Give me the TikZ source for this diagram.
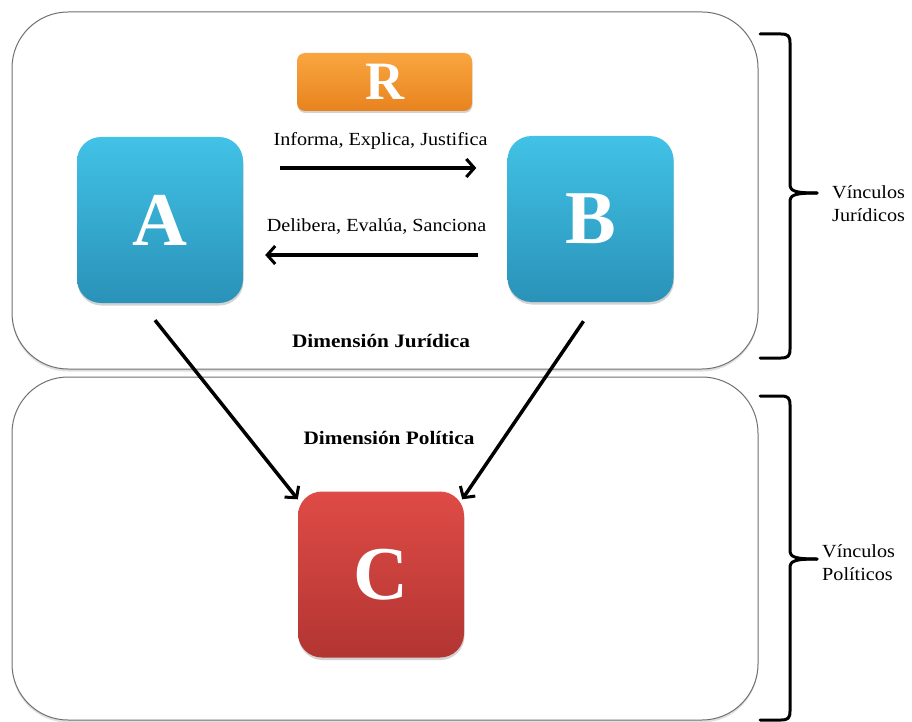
\documentclass[tikz,border=0pt]{standalone}
\usepackage{fontspec}
\setmainfont{Liberation Serif}
\newfontfamily\widefont[FakeStretch=1.09]{Liberation Serif}
\newfontfamily\widerfont[FakeStretch=1.12]{Liberation Serif}
\usetikzlibrary{shadows,arrows.meta,calc}
\definecolor{otop}{HTML}{F9A640}
\definecolor{obot}{HTML}{E8831F}
\definecolor{btop}{HTML}{41C2E6}
\definecolor{bbot}{HTML}{2A92B8}
\definecolor{rtop}{HTML}{DF4B46}
\definecolor{rbot}{HTML}{B23532}
\definecolor{pline}{HTML}{707070}
\tikzset{
  panel/.style={draw=pline, line width=1pt, fill=white, rounded corners=56pt,
    drop shadow={shadow xshift=0pt, shadow yshift=-2.5pt, opacity=0.25}},
  letterbox/.style={rounded corners=24pt, minimum width=166pt, minimum height=166pt,
    text=white, font=\fontsize{76}{80}\selectfont\bfseries,
    drop shadow={shadow xshift=0.5pt, shadow yshift=-2.5pt, opacity=0.35}},
  bluebox/.style={letterbox, top color=btop, bottom color=bbot},
  lbl/.style={font=\widefont\fontsize{18.5}{21}\selectfont, inner sep=0pt},
  bold/.style={font=\widerfont\fontsize{19}{22}\selectfont\bfseries, inner sep=0pt},
  blbl/.style={font=\widefont\fontsize{18.5}{23}\selectfont, align=left, inner sep=0pt, anchor=west},
  arr/.style={line width=3.5pt, -{Straight Barb[length=8pt,width=18pt,line width=3pt]}},
  brace/.style={line width=3pt, line cap=round, line join=round}
}
\begin{document}
\begin{tikzpicture}[x=1pt,y=-1pt]
\useasboundingbox (0,0) rectangle (912,722);
% panels
\node[panel, minimum width=746pt, minimum height=357pt] (top) at (385,190.5) {};
\node[panel, minimum width=746pt, minimum height=343pt] (bot) at (385,548.5) {};
% boxes
\node[rounded corners=8pt, minimum width=175pt, minimum height=58pt,
  top color=otop, bottom color=obot, text=white,
  font=\fontsize{54}{56}\selectfont\bfseries,
  drop shadow={shadow xshift=0.5pt, shadow yshift=-2pt, opacity=0.35}] (R) at (384.5,82) {R};
\node[bluebox] (A) at (160,220) {A};
\node[bluebox] (B) at (590.5,219) {B};
\node[letterbox, top color=rtop, bottom color=rbot] (C) at (381,574.5) {C};
% horizontal arrows
\coordinate (t1) at ($(A.east)+(37,-52)$);
\coordinate (t2) at ($(B.west)+(-31,-51)$);
\draw[arr] (t1) -- (t2);
\node[lbl] (inf) at (380.5,141) {Informa, Explica, Justifica};
\coordinate (d1) at ($(B.west)+(-29,36)$);
\coordinate (d2) at ($(A.east)+(22,35)$);
\draw[arr] (d1) -- (d2);
\node[lbl] (del) at (376.5,226) {Delibera, Evalúa, Sanciona};
% diagonal arrows
\draw[arr] ($(A.south)+(-5,17)$) -- ($(C.north west)+(0,8)$);
\draw[arr] ($(B.south)+(-7,19)$) -- ($(C.north east)+(-2,8)$);
% dimension labels
\node[bold] (dj) at (381,341) {Dimensión Jurídica};
\node[bold] (dp) at (389,438) {Dimensión Política};
% braces
\draw[brace] (760,34) -- (781,34) .. controls (788,34) and (790,36) .. (790,43)
  -- (790,184) .. controls (790,191) and (794,193) .. (817,193);
\draw[brace] (760,358) -- (781,358) .. controls (788,358) and (790,356) .. (790,349)
  -- (790,202) .. controls (790,195) and (794,193) .. (817,193);
\node[blbl] (vj) at (832,204) {Vínculos\\Jurídicos};
\draw[brace] (760,396) -- (781,396) .. controls (788,396) and (790,398) .. (790,405)
  -- (790,550) .. controls (790,557) and (794,559) .. (817,559);
\draw[brace] (760,720) -- (781,720) .. controls (788,720) and (790,718) .. (790,711)
  -- (790,568) .. controls (790,561) and (794,559) .. (817,559);
\node[blbl] (vp) at (822,563) {Vínculos\\Políticos};
\end{tikzpicture}
\end{document}
